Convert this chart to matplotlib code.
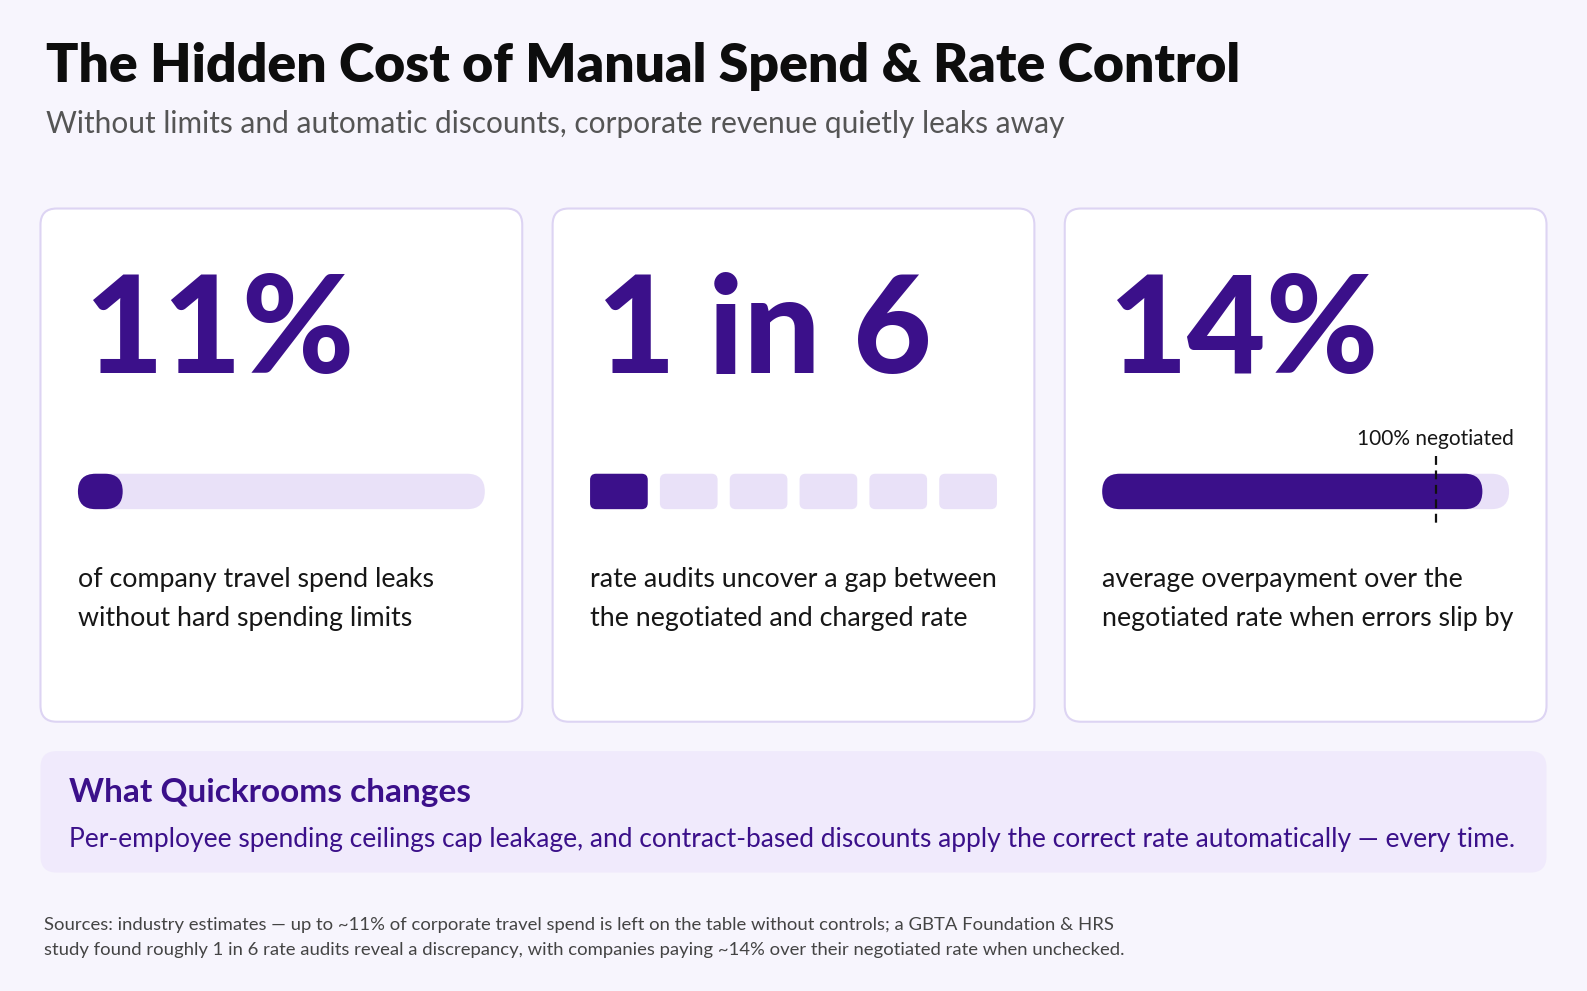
import matplotlib.pyplot as plt
from matplotlib.patches import FancyBboxPatch

# ---- content -------------------------------------------------------------
title = "The Hidden Cost of Manual Spend & Rate Control"
subtitle = "Without limits and automatic discounts, corporate revenue quietly leaks away"

stat_labels = ["11%", "1 in 6", "14%"]
stat_captions = [
    "of company travel spend leaks\nwithout hard spending limits",
    "rate audits uncover a gap between\nthe negotiated and charged rate",
    "average overpayment over the\nnegotiated rate when errors slip by",
]

leak_pct = 11            # card 1: share of spend leaking
audit_hits = 1           # card 2: 1 in 6 audits
audit_total = 6
overpay_pct = 14         # card 3: overpayment over negotiated rate
negotiated_pct = 100
scale_max = 122          # right end of the card-3 track, % of negotiated rate
marker_label = "100% negotiated"

callout_title = "What Quickrooms changes"
callout_body = ("Per-employee spending ceilings cap leakage, and contract-based discounts "
                "apply the correct rate automatically \u2014 every time.")
sources = ("Sources: industry estimates \u2014 up to ~11% of corporate travel spend is left on the "
           "table without controls; a GBTA Foundation & HRS\n"
           "study found roughly 1 in 6 rate audits reveal a discrepancy, with companies paying "
           "~14% over their negotiated rate when unchecked.")

# ---- style ---------------------------------------------------------------
BG = "#f7f5fd"
PURPLE = "#3b108a"
TRACK = "#e9e1f8"
BORDER = "#ddd4f3"
CALLOUT = "#f0eafc"
FONT = ["Lato", "DejaVu Sans"]

# layout units: a 1568 x 979 grid spread over the 1587 x 991 px canvas
W, H = 1568, 979
plt.rcParams["font.family"] = FONT

fig = plt.figure(figsize=(15.87, 9.91), dpi=100, facecolor=BG)
ax = fig.add_axes([0, 0, 1, 1])
ax.set_xlim(0, W)
ax.set_ylim(H, 0)
ax.axis("off")


def rbox(x, y, w, h, r, **kw):
    ax.add_patch(FancyBboxPatch((x, y), w, h,
                                boxstyle=f"round,pad=0,rounding_size={r}", **kw))


# header
ax.text(45, 66, title, fontsize=38.5, fontweight="heavy", color="#0d0d0d", va="center")
ax.text(45, 122.5, subtitle, fontsize=21.5, color="#555555", va="center")

# cards
card_x = [40, 546, 1052]
card_y, card_w, card_h = 206, 476, 507
pad = 37
track_y, track_h = 468, 35
track_w = card_w - 2 * pad

for i, cx in enumerate(card_x):
    rbox(cx, card_y, card_w, card_h, 16, facecolor="white", edgecolor=BORDER, linewidth=1.5)
    ax.text(cx + 44, 330, stat_labels[i], fontsize=98, fontweight="black",
            color=PURPLE, va="center")
    ax.text(cx + pad, 592, stat_captions[i], fontsize=19.25, color="#161616",
            va="center", linespacing=1.7)

# card 1: single progress track
tx = card_x[0] + pad
rbox(tx, track_y, track_w, track_h, track_h / 2, facecolor=TRACK, edgecolor="none")
rbox(tx, track_y, track_w * leak_pct / 100, track_h, track_h / 2,
     facecolor=PURPLE, edgecolor="none")

# card 2: six segments, one highlighted
tx = card_x[1] + pad
gap = 12
seg_w = (track_w - gap * (audit_total - 1)) / audit_total
for k in range(audit_total):
    col = PURPLE if k < audit_hits else TRACK
    rbox(tx + k * (seg_w + gap), track_y, seg_w, track_h, 6, facecolor=col, edgecolor="none")

# card 3: overpayment vs negotiated rate
tx = card_x[2] + pad
rbox(tx, track_y, track_w, track_h, track_h / 2, facecolor=TRACK, edgecolor="none")
fill_w = track_w * (negotiated_pct + overpay_pct) / scale_max
rbox(tx, track_y, fill_w, track_h, track_h / 2, facecolor=PURPLE, edgecolor="none")
mx = tx + track_w * negotiated_pct / scale_max
ax.plot([mx, mx], [450, 518], color="#111111", linewidth=1.6, linestyle=(0, (4, 2.5)))
ax.text(mx, 434, marker_label, fontsize=15, color="#161616", ha="center", va="center")

# callout
rbox(40, 742, 1488, 120, 16, facecolor=CALLOUT, edgecolor="none")
ax.text(68, 783, callout_title, fontsize=24, fontweight="bold", color=PURPLE, va="center")
ax.text(68, 829, callout_body, fontsize=19.0, color=PURPLE, va="center")

# sources
ax.text(43, 926, sources, fontsize=13.3, color="#444444", va="center", linespacing=1.65)

fig.savefig("out.png", dpi=100, facecolor=BG)
